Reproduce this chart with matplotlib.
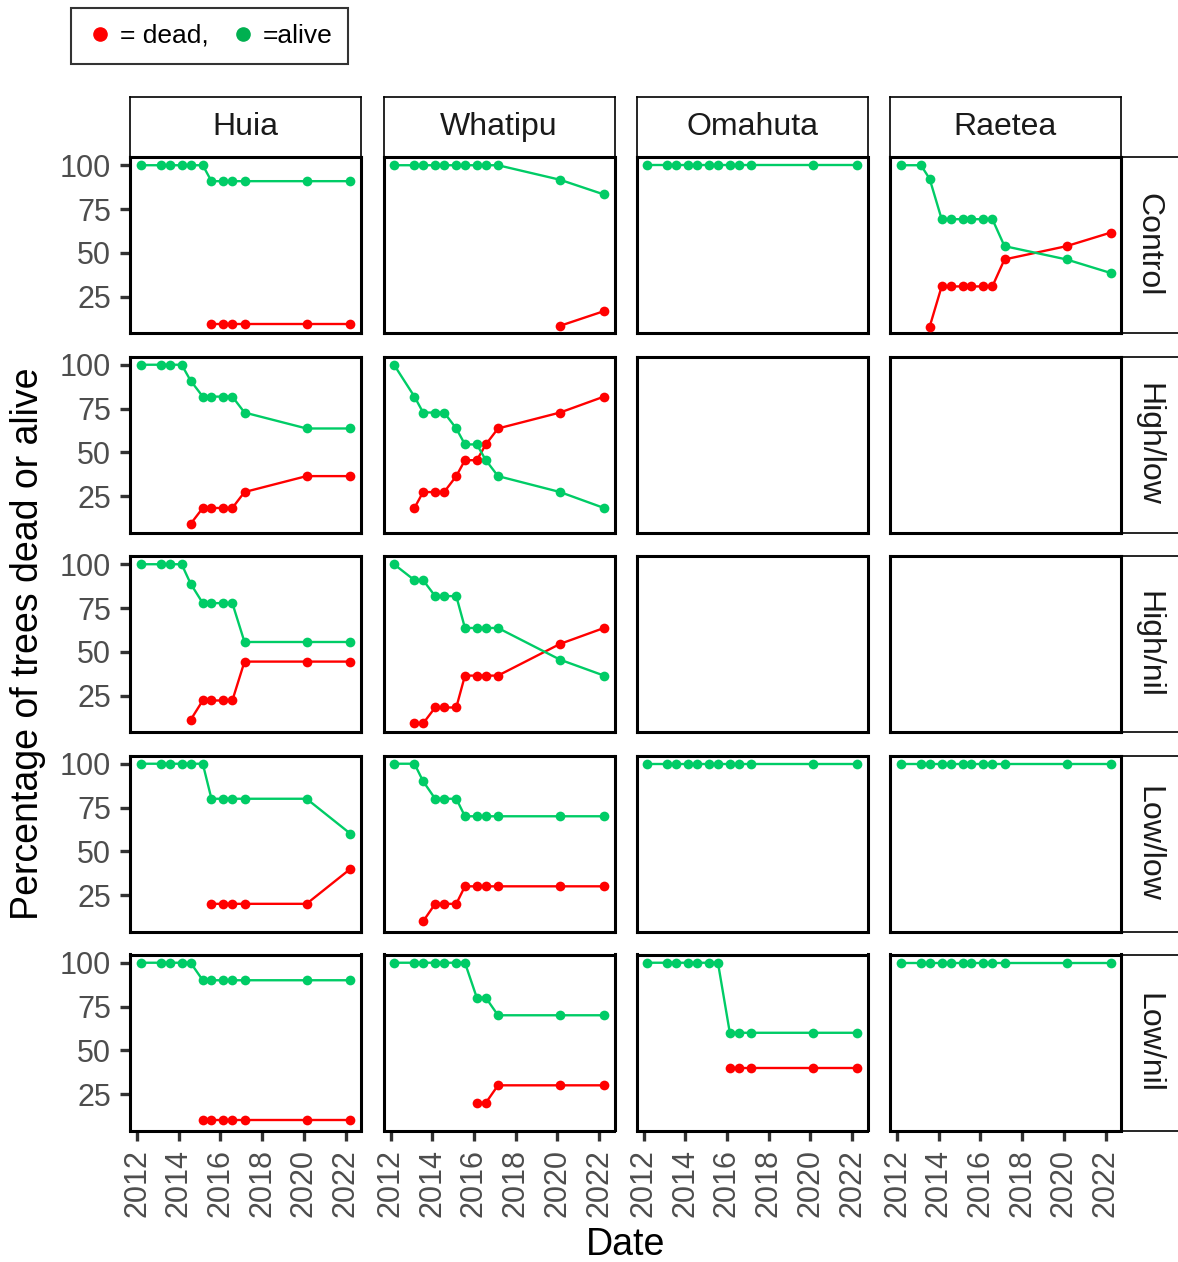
import numpy as np
import pandas as pd
import matplotlib
matplotlib.use("Agg")
import matplotlib.pyplot as plt
import matplotlib.dates as mdates
from matplotlib.lines import Line2D

plt.rcParams['font.family'] = ['Liberation Sans', 'DejaVu Sans']

# survey dates shared by all plots
survey_dates = pd.to_datetime([
    "2012-03-01", "2013-02-22", "2013-07-24", "2014-02-20", "2014-07-27",
    "2015-02-25", "2015-07-27", "2016-02-20", "2016-07-27", "2017-02-25",
    "2020-02-17", "2022-03-28",
])

sites = ["Huia", "Whatipu", "Omahuta", "Raetea"]
treatments = ["Control", "High/low", "High/nil", "Low/low", "Low/nil"]

n = np.nan
# percentage of trees alive / dead at each survey
huia_control_alive = [100, 100, 100, 100, 100, 100, 90.9, 90.9, 90.9, 90.9, 90.9, 90.9]
huia_control_dead = [n, n, n, n, n, n, 9.1, 9.1, 9.1, 9.1, 9.1, 9.1]
huia_highlow_alive = [100, 100, 100, 100, 90.9, 81.8, 81.8, 81.8, 81.8, 72.7, 63.6, 63.6]
huia_highlow_dead = [n, n, n, n, 9.1, 18.2, 18.2, 18.2, 18.2, 27.3, 36.4, 36.4]
huia_highnil_alive = [100, 100, 100, 100, 88.9, 77.8, 77.8, 77.8, 77.8, 55.6, 55.6, 55.6]
huia_highnil_dead = [n, n, n, n, 11.1, 22.2, 22.2, 22.2, 22.2, 44.4, 44.4, 44.4]
huia_lowlow_alive = [100, 100, 100, 100, 100, 100, 80, 80, 80, 80, 80, 60]
huia_lowlow_dead = [n, n, n, n, n, n, 20, 20, 20, 20, 20, 40]
huia_lownil_alive = [100, 100, 100, 100, 100, 90, 90, 90, 90, 90, 90, 90]
huia_lownil_dead = [n, n, n, n, n, 10, 10, 10, 10, 10, 10, 10]

whatipu_control_alive = [100, 100, 100, 100, 100, 100, 100, 100, 100, 100, 91.7, 83.3]
whatipu_control_dead = [n, n, n, n, n, n, n, n, n, n, 8.3, 16.7]
whatipu_highlow_alive = [100, 81.8, 72.7, 72.7, 72.7, 63.6, 54.5, 54.5, 45.5, 36.4, 27.3, 18.2]
whatipu_highlow_dead = [n, 18.2, 27.3, 27.3, 27.3, 36.4, 45.5, 45.5, 54.5, 63.6, 72.7, 81.8]
whatipu_highnil_alive = [100, 90.9, 90.9, 81.8, 81.8, 81.8, 63.6, 63.6, 63.6, 63.6, 45.5, 36.4]
whatipu_highnil_dead = [n, 9.1, 9.1, 18.2, 18.2, 18.2, 36.4, 36.4, 36.4, 36.4, 54.5, 63.6]
whatipu_lowlow_alive = [100, 100, 90, 80, 80, 80, 70, 70, 70, 70, 70, 70]
whatipu_lowlow_dead = [n, n, 10, 20, 20, 20, 30, 30, 30, 30, 30, 30]
whatipu_lownil_alive = [100, 100, 100, 100, 100, 100, 100, 80, 80, 70, 70, 70]
whatipu_lownil_dead = [n, n, n, n, n, n, n, 20, 20, 30, 30, 30]

omahuta_control_alive = [100] * 12
omahuta_lowlow_alive = [100] * 12
omahuta_lownil_alive = [100, 100, 100, 100, 100, 100, 100, 60, 60, 60, 60, 60]
omahuta_lownil_dead = [n, n, n, n, n, n, n, 40, 40, 40, 40, 40]

raetea_control_alive = [100, 100, 92.3, 69.2, 69.2, 69.2, 69.2, 69.2, 69.2, 53.8, 46.2, 38.5]
raetea_control_dead = [n, n, 7.7, 30.8, 30.8, 30.8, 30.8, 30.8, 30.8, 46.2, 53.8, 61.5]
raetea_lowlow_alive = [100] * 12
raetea_lownil_alive = [100] * 12

# (site, treatment) -> (alive, dead)
panels = {
    ("Huia", "Control"): (huia_control_alive, huia_control_dead),
    ("Huia", "High/low"): (huia_highlow_alive, huia_highlow_dead),
    ("Huia", "High/nil"): (huia_highnil_alive, huia_highnil_dead),
    ("Huia", "Low/low"): (huia_lowlow_alive, huia_lowlow_dead),
    ("Huia", "Low/nil"): (huia_lownil_alive, huia_lownil_dead),
    ("Whatipu", "Control"): (whatipu_control_alive, whatipu_control_dead),
    ("Whatipu", "High/low"): (whatipu_highlow_alive, whatipu_highlow_dead),
    ("Whatipu", "High/nil"): (whatipu_highnil_alive, whatipu_highnil_dead),
    ("Whatipu", "Low/low"): (whatipu_lowlow_alive, whatipu_lowlow_dead),
    ("Whatipu", "Low/nil"): (whatipu_lownil_alive, whatipu_lownil_dead),
    ("Omahuta", "Control"): (omahuta_control_alive, None),
    ("Omahuta", "Low/low"): (omahuta_lowlow_alive, None),
    ("Omahuta", "Low/nil"): (omahuta_lownil_alive, omahuta_lownil_dead),
    ("Raetea", "Control"): (raetea_control_alive, raetea_control_dead),
    ("Raetea", "Low/low"): (raetea_lowlow_alive, None),
    ("Raetea", "Low/nil"): (raetea_lownil_alive, None),
}

RED = "#FF0000"
GREEN = "#00CC66"
TICK_GREY = "#4D4D4D"

W, H = 1178, 1262
fig = plt.figure(figsize=(W / 100, H / 100), dpi=100)


def px_axes(x, y, w, h):
    return fig.add_axes([x / W, 1 - (y + h) / H, w / W, h / H])


col_left = [130, 383.5, 636.5, 890]
row_top = [157, 356.5, 556, 755.5, 954.5]
pw, ph = 231, 176

xnum = mdates.date2num(survey_dates)
pad = 0.05 * (xnum.max() - xnum.min())
xlim = (xnum.min() - pad, xnum.max() + pad)
ylim = (4.2, 104.7)

for i, trt in enumerate(treatments):
    for j, site in enumerate(sites):
        ax = px_axes(col_left[j], row_top[i], pw, ph)
        alive, dead = panels.get((site, trt), (None, None))
        for vals, col in ((dead, RED), (alive, GREEN)):
            if vals is None:
                continue
            ax.plot(survey_dates, vals, color=col, lw=1.7, zorder=2)
        for vals, col in ((dead, RED), (alive, GREEN)):
            if vals is None:
                continue
            ax.plot(survey_dates, vals, ls="none", marker="o", ms=7,
                    mfc=col, mec=col, mew=0, zorder=3)
        ax.set_xlim(xlim)
        ax.set_ylim(ylim)
        ax.set_yticks([25, 50, 75, 100])
        ax.xaxis.set_major_locator(mdates.YearLocator(2))
        ax.xaxis.set_major_formatter(mdates.DateFormatter("%Y"))
        for sp in ax.spines.values():
            sp.set_linewidth(2.2)
            sp.set_color("black")
        ax.tick_params(length=7, width=2.4, color="#333333",
                       labelcolor=TICK_GREY, labelsize=22, pad=6.5)
        if j == 0:
            ax.tick_params(axis="y", left=True, labelleft=True)
        else:
            ax.tick_params(axis="y", left=False, labelleft=False)
        if i == len(treatments) - 1:
            ax.tick_params(axis="x", bottom=True, labelbottom=True,
                           labelrotation=90)
        else:
            ax.tick_params(axis="x", bottom=False, labelbottom=False)

        # column strip
        if i == 0:
            st = px_axes(col_left[j], 97, pw, 60)
            st.set_xticks([])
            st.set_yticks([])
            for sp in st.spines.values():
                sp.set_linewidth(1.2)
            st.text(0.5, 0.5, site, ha="center", va="center",
                    fontsize=23, color="#1A1A1A", transform=st.transAxes)
            st.set_zorder(-1)

    # row strip
    rs = px_axes(col_left[-1] + pw, row_top[i], 64, ph)
    rs.set_xticks([])
    rs.set_yticks([])
    for sp in rs.spines.values():
        sp.set_linewidth(1.2)
    rs.text(0.42, 0.5, trt, ha="center", va="center", rotation=-90,
            fontsize=23, color="#1A1A1A", transform=rs.transAxes)
    rs.set_zorder(-1)

fig.text(626 / W, 1 - 1245 / H, "Date", ha="center", va="center",
         fontsize=27, color="black")
fig.text(28 / W, 1 - 644 / H, "Percentage of trees dead or alive",
         ha="center", va="center", rotation=90, fontsize=27, color="black")

handles = [
    Line2D([], [], ls="none", marker="o", ms=9.5, mfc=RED, mec=RED,
           label="= dead,"),
    Line2D([], [], ls="none", marker="o", ms=9.5, mfc="#00B050",
           mec="#00B050", label="=alive"),
]
leg = fig.legend(handles=handles, ncol=2, loc="upper left",
                 bbox_to_anchor=(71 / W, 1 - 8 / H), frameon=True,
                 fancybox=False, edgecolor="black", fontsize=19,
                 handlelength=1.0, handletextpad=0.25, columnspacing=0.8,
                 borderpad=0.6, borderaxespad=0)
leg.get_frame().set_linewidth(1.5)

fig.savefig("out.png", dpi=100)
